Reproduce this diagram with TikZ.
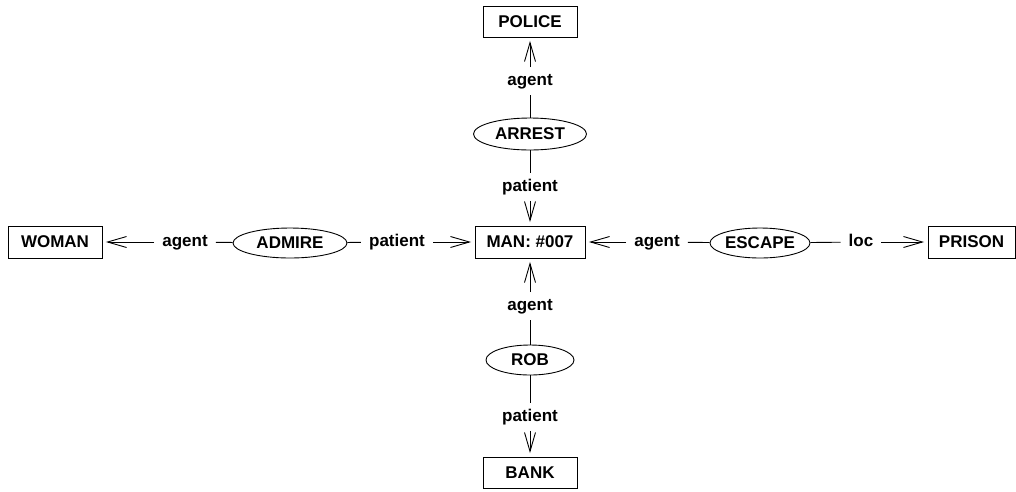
\documentclass[tikz,border=0pt]{standalone}
\usepackage{fontspec}
\setmainfont{Liberation Sans}
\usetikzlibrary{shapes.geometric,arrows.meta}
\begin{document}
\begin{tikzpicture}[x=1pt,y=-1pt,
  font=\fontsize{17}{20}\selectfont\bfseries,
  concept/.style={draw,line width=0.9pt,rectangle,minimum height=31pt,inner sep=0pt},
  relation/.style={draw,line width=0.9pt,ellipse,minimum height=30pt,inner sep=0pt},
  role/.style={inner xsep=8pt,inner ysep=6pt,text height=12pt,text depth=3.5pt},
  link/.style={line width=0.9pt},
  arc/.style={line width=0.9pt,-{Straight Barb[length=19pt,width=11pt]},shorten >=3.5pt}]
\useasboundingbox (0,0) rectangle (1016,491);

% concepts
\node[concept,minimum width=110pt,minimum height=32pt] (man)   at (530,242)   {MAN: \#007};
\node[concept,minimum width=94pt]  (police) at (530,21.5) {POLICE};
\node[concept,minimum width=94pt,minimum height=32pt] (woman) at (55,242) {WOMAN};
\node[concept,minimum width=87pt,minimum height=32pt] (prison) at (971.5,242) {PRISON};
\node[concept,minimum width=94pt]  (bank)  at (530,472.5) {BANK};

% relations
\node[relation,minimum width=113pt,minimum height=32pt] (arrest) at (530,134) {ARREST};
\node[relation,minimum width=114pt] (admire) at (290,243) {ADMIRE};
\node[relation,minimum width=100pt] (escape) at (760,243) {ESCAPE};
\node[relation,minimum width=88pt] (rob) at (530,360) {ROB};

% role labels
\node[role] (arrestAgent)   at (530,81)  {agent};
\node[role] (arrestPatient) at (530,187) {patient};
\node[role] (admireAgent)   at (185,242) {agent};
\node[role] (admirePatient) at (397,242) {patient};
\node[role] (escapeAgent)   at (657,242) {agent};
\node[role] (escapeLoc)     at (861,242) {loc};
\node[role] (robAgent)      at (530,306) {agent};
\node[role] (robPatient)    at (530,417) {patient};

% ARREST
\draw[link] (arrest) -- (arrestAgent);
\draw[arc]  (arrestAgent) -- (police);
\draw[link] (arrest) -- (arrestPatient);
\draw[arc]  (arrestPatient) -- (man);

% ADMIRE
\draw[link] (admire) -- (admireAgent);
\draw[arc]  (admireAgent) -- (woman);
\draw[link] (admire) -- (admirePatient);
\draw[arc]  (admirePatient) -- (man);

% ESCAPE
\draw[link] (escape) -- (escapeAgent);
\draw[arc]  (escapeAgent) -- (man);
\draw[link] (escape) -- (escapeLoc);
\draw[arc]  (escapeLoc) -- (prison);

% ROB
\draw[link] (rob) -- (robAgent);
\draw[arc]  (robAgent) -- (man);
\draw[link] (rob) -- (robPatient);
\draw[arc]  (robPatient) -- (bank);
\end{tikzpicture}
\end{document}
